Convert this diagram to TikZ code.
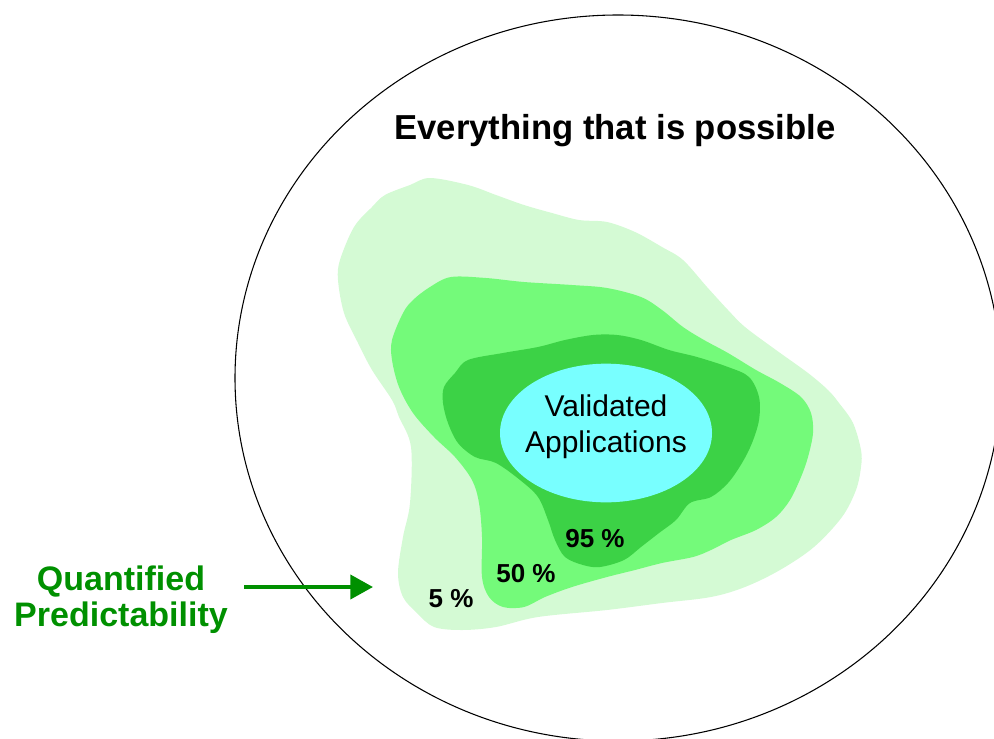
\documentclass[tikz,border=0pt]{standalone}
\usepackage{fontspec}
\setmainfont{Liberation Sans}
\usetikzlibrary{shapes,arrows.meta,positioning}
\definecolor{palegreen}{HTML}{D4FAD4}
\definecolor{midgreen}{HTML}{74FA7A}
\definecolor{deepgreen}{HTML}{3CD246}
\definecolor{aqua}{HTML}{78FFFF}
\definecolor{labelgreen}{HTML}{009000}

\tikzset{
  zone/.style={draw=none, smooth cycle, tension=0.55},
  pct/.style={font=\fontsize{19.5}{22}\selectfont\bfseries, anchor=base, inner sep=0pt},
  appsbox/.style={ellipse, fill=aqua, minimum width=159pt, minimum height=104pt, inner sep=0pt},
}

\begin{document}
\begin{tikzpicture}[x=0.75pt, y=-0.75pt]
\useasboundingbox (0,0) rectangle (994,738);
\clip (0,0) rectangle (994,738);

% outer boundary
\draw[line width=0.8pt] (618,378) ellipse [x radius=383, y radius=363];

% 5 % zone
\fill[palegreen] plot[zone] coordinates {
  (430,178) (468,185) (496,195) (524,205) (552,213) (579,220) (607,222)
  (635,232) (662,247) (683,260) (707,287) (728,310) (745,327) (776,350)
  (808,373) (828,390) (839,403) (853,423) (861,450) (861,467) (856,490)
  (842,517) (814,547) (780,570) (745,587) (711,597) (662,603) (607,610)
  (538,617) (496,627) (462,630) (434,627) (417,613) (403,597) (398,573)
  (403,537) (410,503) (411,447) (399,417) (392,400) (372,370) (358,343)
  (344,313) (338,280) (340,260) (354,227) (372,207) (385,195) (410,185)};

% 50 % zone
\fill[midgreen] plot[zone] coordinates {
  (451,277) (486,278) (524,282) (572,285) (607,288) (641,297) (662,310)
  (683,327) (704,340) (728,353) (756,370) (780,383) (801,397) (811,413)
  (813,433) (808,457) (801,477) (790,500) (776,517) (756,530) (731,540)
  (711,550) (693,557) (662,563) (635,570) (607,577) (572,587) (545,597)
  (524,607) (503,607) (489,597) (482,577) (482,537) (479,503) (472,480)
  (455,457) (434,437) (413,413) (399,387) (392,360) (392,340) (403,313)
  (413,300) (430,287)};

% 95 % zone
\fill[deepgreen] plot[zone] coordinates {
  (468,360) (503,353) (538,347) (565,340) (593,335) (617,335) (641,340)
  (669,350) (697,357) (728,367) (749,377) (759,397) (759,420) (752,443)
  (742,463) (728,483) (711,497) (690,503) (676,520) (659,533) (641,547)
  (624,560) (600,567) (583,565) (565,557) (555,540) (548,520) (538,497)
  (520,480) (496,463) (475,457) (458,443) (448,423) (443,403) (444,387)
  (455,373)};

\node[appsbox] (apps) at (606,433) {};
\node[font=\fontsize{22.5}{27}\selectfont, align=center] (appstext) at (606,427) {Validated\\Applications};

\node[font=\fontsize{26}{31}\selectfont\bfseries, anchor=base] (title) at (615,139) {Everything that is possible};

\node[pct] (p95) at (595,547) {95 \%};
\node[pct] (p50) at (526,582) {50 \%};
\node[pct] (p5) at (451,607) {5 \%};

\node[font=\fontsize{25.5}{27}\selectfont\bfseries, text=labelgreen, align=center] (qp) at (121,600) {Quantified\\Predictability};
\coordinate (tip) at (373,587);
\draw[labelgreen, line width=3pt, shorten <=9pt, -{Triangle[length=17pt, width=18pt]}] (qp.east |- tip) -- (tip);
\end{tikzpicture}
\end{document}
